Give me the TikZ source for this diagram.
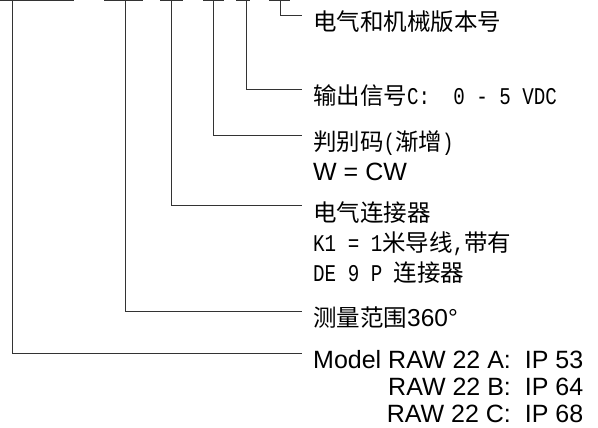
\documentclass[tikz,border=0pt]{standalone}
\usepackage{fontspec}
\setmainfont{Liberation Sans}
\newfontfamily\cjk{Noto Sans CJK SC}
\newfontfamily\mono[FakeStretch=0.8]{Liberation Mono}
\newcommand\lat[1]{{\mono\fontsize{24}{27}\selectfont #1}}
\usetikzlibrary{positioning}

\tikzset{
  lead/.style={line width=0.9pt,draw=black!80},
  topbar/.style={line width=1.4pt,draw=black!80},
  lbl/.style={anchor=base west,inner sep=0pt,font=\fontsize{23.5}{27}\selectfont},
  sanslbl/.style={lbl,font=\fontsize{25}{28}\selectfont},
}

\begin{document}
\begin{tikzpicture}[x=1pt,y=-1pt]
        \useasboundingbox (0,0) rectangle (598,428);
        % bars under the type code
        \foreach \a/\b in {0/74,104/143,160/183,203/224,236/250,269/290}
            \draw [topbar] (\a,0.7) -- (\b,0.7);
        \coordinate (b1) at (12,0.7);
        \coordinate (b2) at (125,0.7);
        \coordinate (b3) at (171,0.7);
        \coordinate (b4) at (213,0.7);
        \coordinate (b5) at (246,0.7);
        \coordinate (b6) at (280,0.7);
        % labels
        \node [lbl] (ver) at (313,30.5) {\cjk 电气和机械版本号};
        \node [lbl] (sig) at (313,104.5) {\cjk 输出信号\lat{C:~~0 - 5 VDC}};
        \node [lbl] (code) at (313,150) {\cjk 判别码\lat{(}渐增\lat{)}};
        \node [sanslbl] (cw) at (313,180) {W = CW};
        \node [lbl] (conn) at (313,221) {\cjk 电气连接器};
        \node [lbl] (cable) at (313,251.5) {\lat{K1 = 1}\cjk 米导线\lat{,}带有};
        \node [lbl] (plug) at (313,281.5) {\lat{DE 9 P }\cjk 连接器};
        \node [lbl] (range) at (313,326) {\cjk 测量范围\fontsize{24.5}{28}\rmfamily 360°};
        \node [sanslbl] (ipa) at (313,368.5) {Model RAW 22 A:\ \ IP 53};
        \node [sanslbl,anchor=base east] (ipb) at ([yshift=-27pt]ipa.base east) {RAW 22 B:\ \ IP 64};
        \node [sanslbl,anchor=base east] (ipc) at ([yshift=-27pt]ipb.base east) {RAW 22 C:\ \ IP 68};
        % leads
        \draw [lead] (b6) |- ([xshift=-11pt,yshift=15.5pt]ver.base west);
        \draw [lead] (b5) |- ([xshift=-11pt,yshift=15.5pt]sig.base west);
        \draw [lead] (b4) |- ([xshift=-11pt,yshift=15pt]code.base west);
        \draw [lead] (b3) |- ([xshift=-11pt,yshift=16pt]conn.base west);
        \draw [lead] (b2) |- ([xshift=-11pt,yshift=15pt]range.base west);
        \draw [lead] (b1) |- ([xshift=-11pt,yshift=15.5pt]ipa.base west);
\end{tikzpicture}
\end{document}
